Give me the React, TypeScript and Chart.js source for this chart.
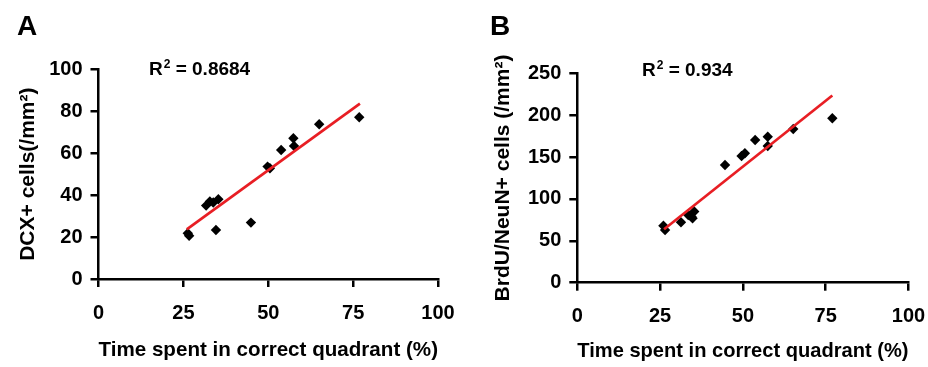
import React, { useEffect, useRef } from 'react';
import { Chart, registerables } from 'chart.js';

Chart.register(...registerables);

// Panel A: DCX+ cells vs time in correct quadrant
const timeA = [26.3, 26.7, 31.7, 32.8, 33.8, 35.3, 34.6, 44.9, 49.8, 50.5, 53.8, 57.4, 57.6, 65.0, 76.8];
const dcxA = [21.8, 20.6, 35.0, 37.0, 36.5, 38.0, 23.4, 26.9, 53.6, 52.8, 61.5, 67.1, 63.4, 73.8, 77.1];
const trendAX = [26.0, 77.0];
const trendAY = [23.7, 83.6];

// Panel B: BrdU/NeuN+ cells vs time in correct quadrant
const timeB = [26.0, 26.5, 31.3, 33.5, 34.5, 34.8, 35.3, 44.6, 49.6, 50.6, 53.7, 57.5, 57.5, 65.2, 77.0];
const brduB = [68.0, 62.9, 72.1, 80.8, 78.8, 76.9, 85.0, 140.5, 151.3, 154.5, 170.4, 174.3, 163.2, 183.5, 196.3];
const trendBX = [26.2, 77.0];
const trendBY = [63.8, 223.5];

const xTicks = [0, 25, 50, 75, 100];
const yTicksA = [0, 20, 40, 60, 80, 100];
const yTicksB = [0, 50, 100, 150, 200, 250];

const FONT = '"Liberation Sans", Arial, Helvetica, sans-serif';

type PanelCfg = {
  letter: string;
  letterX: number;
  r2: string;
  r2X: number;
  r2Y: number;
  xs: number[];
  ys: number[];
  tx: number[];
  ty: number[];
  yTicks: number[];
  yTitle: string;
  yAxisWidth: number;
  yTitlePad: number;
  xAxisHeight: number;
  xTitlePad: number;
  padTop: number;
  padRight: number;
};

const panelA: PanelCfg = {
  letter: 'A', letterX: 17,
  r2: '0.8684', r2X: 149, r2Y: 75,
  xs: timeA, ys: dcxA, tx: trendAX, ty: trendAY,
  yTicks: yTicksA,
  yTitle: 'DCX+ cells(/mm²)',
  yAxisWidth: 98.5, yTitlePad: 15.5,
  xAxisHeight: 88, xTitlePad: 4,
  padTop: 69.3, padRight: 26,
};

const panelB: PanelCfg = {
  letter: 'B', letterX: 26,
  r2: '0.934', r2X: 178, r2Y: 76,
  xs: timeB, ys: brduB, tx: trendBX, ty: trendBY,
  yTicks: yTicksB,
  yTitle: 'BrdU/NeuN+ cells (/mm²)',
  yAxisWidth: 113.3, yTitlePad: 26.5,
  xAxisHeight: 84.3, xTitlePad: 2.7,
  padTop: 73.3, padRight: 19.5,
};

function zeroPad(s: any) {
  s.paddingLeft = 0;
  s.paddingRight = 0;
  s.paddingTop = 0;
  s.paddingBottom = 0;
}

function Panel({ cfg }: { cfg: PanelCfg }) {
  const ref = useRef<HTMLCanvasElement | null>(null);
  useEffect(() => {
    if (!ref.current) return;
    const labelPlugin = {
      id: 'panelLabels',
      afterDraw(chart: any) {
        const ctx = chart.ctx;
        ctx.save();
        ctx.fillStyle = '#000';
        ctx.textBaseline = 'alphabetic';
        ctx.textAlign = 'left';
        ctx.font = `bold 28px ${FONT}`;
        ctx.fillText(cfg.letter, cfg.letterX, 35);
        ctx.font = `bold 19px ${FONT}`;
        ctx.fillText('R', cfg.r2X, cfg.r2Y);
        const rw = ctx.measureText('R').width;
        ctx.font = `bold 12px ${FONT}`;
        ctx.fillText('2', cfg.r2X + rw + 1, cfg.r2Y - 7);
        const sw = ctx.measureText('2').width;
        ctx.font = `bold 19px ${FONT}`;
        ctx.fillText(' = ' + cfg.r2, cfg.r2X + rw + 1 + sw, cfg.r2Y);
        ctx.restore();
      },
    };
    const tickFont = { family: FONT, size: 20, weight: 'bold' as const };
    const titleFont = { family: FONT, size: 21, weight: 'bold' as const };
    const chart = new Chart(ref.current, {
      type: 'scatter',
      data: {
        datasets: [
          {
            type: 'line',
            data: cfg.tx.map((x, i) => ({ x, y: cfg.ty[i] })),
            borderColor: 'rgb(232, 30, 36)',
            borderWidth: 2.7,
            pointRadius: 0,
            showLine: true,
            fill: false,
            order: 0,
          } as any,
          {
            type: 'scatter',
            data: cfg.xs.map((x, i) => ({ x, y: cfg.ys[i] })),
            pointStyle: 'rectRot',
            pointRadius: 5.2,
            backgroundColor: '#000',
            borderColor: '#000',
            borderWidth: 0,
            order: 1,
          },
        ],
      },
      options: {
        animation: false,
        responsive: false,
        maintainAspectRatio: false,
        layout: { padding: { top: cfg.padTop, right: cfg.padRight, left: 0, bottom: 0 } },
        plugins: { legend: { display: false }, tooltip: { enabled: false }, title: { display: false } },
        scales: {
          x: {
            type: 'linear',
            min: 0,
            max: 100,
            afterBuildTicks: (s: any) => { s.ticks = xTicks.map((v) => ({ value: v })); },
            afterFit: (s: any) => { s.height = cfg.xAxisHeight; zeroPad(s); },
            ticks: { color: '#000', font: tickFont, padding: 14, maxRotation: 0, autoSkip: false },
            grid: { drawOnChartArea: false, drawTicks: true, tickLength: 8, color: '#000', lineWidth: 2.5 },
            border: { display: true, color: '#000', width: 2.5 },
            title: {
              display: true,
              text: 'Time spent in correct quadrant (%)',
              color: '#000',
              font: titleFont,
              padding: { top: 0, bottom: cfg.xTitlePad },
            },
          },
          y: {
            type: 'linear',
            min: cfg.yTicks[0],
            max: cfg.yTicks[cfg.yTicks.length - 1],
            afterBuildTicks: (s: any) => { s.ticks = cfg.yTicks.map((v) => ({ value: v })); },
            afterFit: (s: any) => { s.width = cfg.yAxisWidth; zeroPad(s); },
            ticks: { color: '#000', font: tickFont, padding: 8, autoSkip: false },
            grid: { drawOnChartArea: false, drawTicks: true, tickLength: 8, color: '#000', lineWidth: 2.5 },
            border: { display: true, color: '#000', width: 2.5 },
            title: {
              display: true,
              text: cfg.yTitle,
              color: '#000',
              font: titleFont,
              padding: { top: cfg.yTitlePad, bottom: 0 },
            },
          },
        },
      },
      plugins: [labelPlugin],
    });
    return () => chart.destroy();
  }, [cfg]);
  return <canvas ref={ref} width={464} height={367} style={{ display: 'block', width: 464, height: 367 }} />;
}

export default function App() {
  return (
    <div style={{ position: 'absolute', left: 0, top: 0, width: 928, height: 367, background: '#fff', display: 'flex' }}>
      <Panel cfg={panelA} />
      <Panel cfg={panelB} />
    </div>
  );
}
